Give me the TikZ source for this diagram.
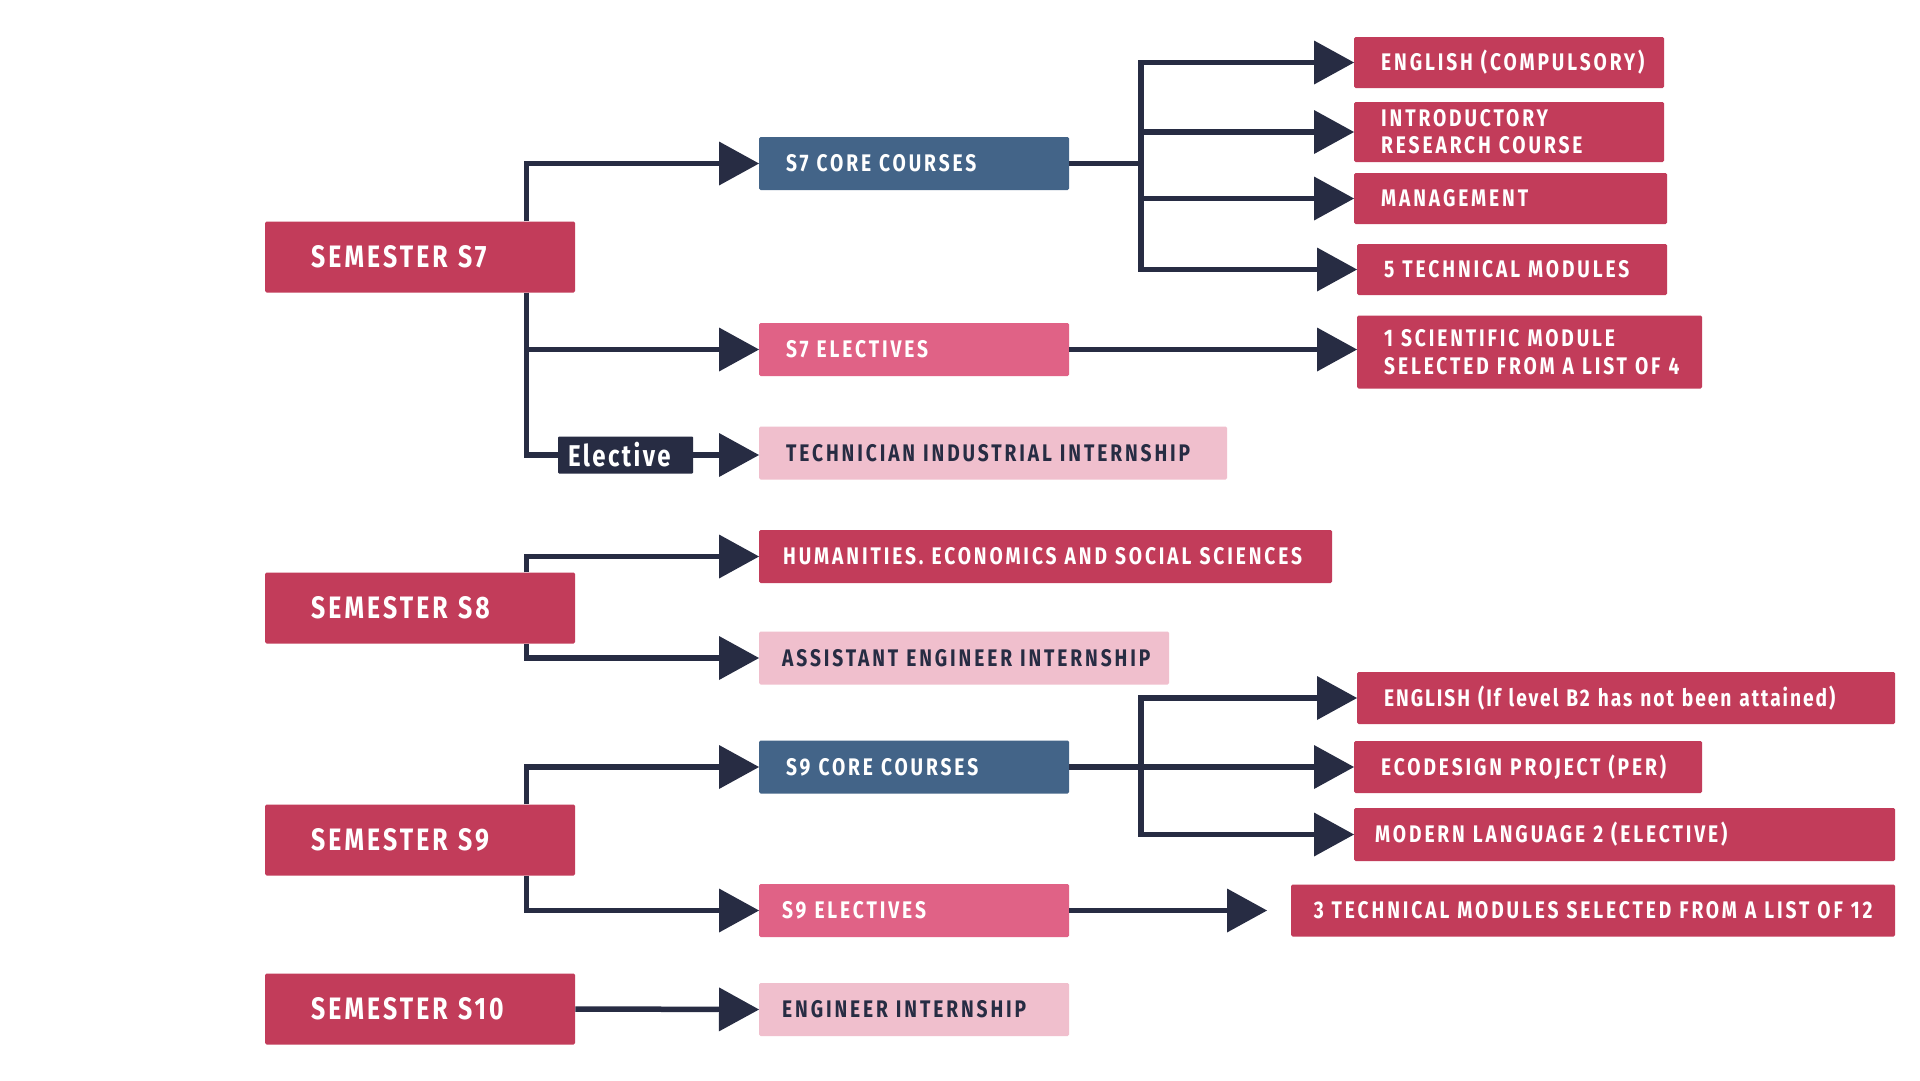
\documentclass[tikz,border=0pt]{standalone}
\usepackage{fontspec}
\setmainfont{Fira Sans}[FakeStretch=0.8, LetterSpace=12]
\newfontfamily\semfont{Fira Sans}[FakeStretch=0.8, LetterSpace=10]
\newfontfamily\tagfont{Fira Sans}[FakeStretch=0.8, LetterSpace=8]
\usetikzlibrary{arrows.meta, positioning}
\definecolor{crimson}{HTML}{C23C5A}
\definecolor{coreblue}{HTML}{436488}
\definecolor{pinkmid}{HTML}{E06286}
\definecolor{pinklight}{HTML}{F0BFCD}
\definecolor{navy}{HTML}{272C43}

\begin{document}
\begin{tikzpicture}[
    x=1pt, y=-1pt,
    every node/.style={anchor=west, align=left, inner ysep=0pt, inner xsep=27pt, rounded corners=1.5pt, font=\bfseries\fontsize{24}{28}\selectfont},
    sem/.style={fill=crimson, text=white, minimum height=71pt, inner xsep=46pt, text width=218pt, font=\semfont\bfseries\fontsize{31}{36}\selectfont},
    core/.style={fill=coreblue, text=white, minimum height=53pt},
    elect/.style={fill=pinkmid, text=white, minimum height=53pt},
    intern/.style={fill=pinklight, text=navy, minimum height=53pt},
    course/.style={fill=crimson, text=white, minimum height=52pt},
    link/.style={draw=navy, line width=5.5pt},
    arrow/.style={link, -{Triangle[length=40pt, width=44pt, line width=0pt]}}
]
\fill[white] (0,0) rectangle (1920,1080);

% Semesters
\node[sem] (sem7) at (265,257) {SEMESTER S7};
\node[sem] (sem8) at (265,608) {SEMESTER S8};
\node[sem] (sem9) at (265,840) {SEMESTER S9};
\node[sem] (sem10) at (265,1009) {SEMESTER S10};

% Second column
\node[core, text width=256pt] (core7) at (759,163.5) {S7 CORE COURSES};
\node[elect, text width=256pt] (elec7) at (759,349.5) {S7 ELECTIVES};
\node[intern, text width=414pt] (tech7) at (759,453) {\mbox{TECHNICIAN INDUSTRIAL INTERNSHIP}};
\node[course, minimum height=53pt, inner xsep=24pt, text width=525pt] (hum8) at (759,556.5) {\mbox{HUMANITIES. ECONOMICS AND SOCIAL SCIENCES}};
\node[intern, inner xsep=23pt, text width=364pt] (asst8) at (759,658) {\mbox{ASSISTANT ENGINEER INTERNSHIP}};
\node[core, text width=256pt] (core9) at (759,767) {S9 CORE COURSES};
\node[elect, inner xsep=23pt, text width=264pt] (elec9) at (759,910.5) {S9 ELECTIVES};
\node[intern, inner xsep=23pt, text width=264pt] (intern10) at (759,1009.5) {ENGINEER INTERNSHIP};
\node[fill=navy, text=white, inner xsep=10pt, minimum height=37pt, text width=115pt, rounded corners=1pt, font=\tagfont\bfseries\fontsize{30}{34}\selectfont] (tag) at (558,455) {Elective};

% Third column
\node[course, minimum height=51pt, text width=256pt] (eng7) at (1354,62.5) {\mbox{ENGLISH (COMPULSORY)}};
\node[course, minimum height=60pt, text width=256pt, font=\bfseries\fontsize{24}{27}\selectfont] (intro7) at (1354,132) {INTRODUCTORY\\RESEARCH COURSE};
\node[course, minimum height=51pt, text width=259pt] (mgmt7) at (1354,198.5) {MANAGEMENT};
\node[course, minimum height=51pt, text width=256pt] (mod7) at (1357,269.5) {\mbox{5 TECHNICAL MODULES}};
\node[course, minimum height=73pt, text width=291pt] (sci7) at (1357,352) {\mbox{1 SCIENTIFIC MODULE}\\\mbox{SELECTED FROM A LIST OF 4}};
\node[course, text width=484pt, font=\tagfont\bfseries\fontsize{24}{28}\selectfont] (eng9) at (1357,698) {\mbox{ENGLISH (If level B2 has not been attained)}};
\node[course, text width=294pt] (eco9) at (1354,767) {\mbox{ECODESIGN PROJECT (PER)}};
\node[course, minimum height=53pt, inner xsep=21pt, text width=499pt] (lang9) at (1354,834.5) {\mbox{MODERN LANGUAGE 2 (ELECTIVE)}};
\node[course, inner xsep=12pt, text width=580pt, align=center] (mod9) at (1291,910.5) {\mbox{3 TECHNICAL MODULES SELECTED FROM A LIST OF 12}};

% Trunks
\coordinate (t) at (526.5,0);
\coordinate (c) at (1141,0);

% Arrows
\draw[arrow] (sem7.north -| t) |- (core7.west);
\draw[arrow] (sem7.south -| t) |- (elec7.west);
\draw[link] (sem7.south -| t) |- (tag.west);
\draw[arrow] (tag.east) -- (tag.east -| tech7.west);

\draw[link] (core7.east) -- (core7.east -| c);
\draw[link, line cap=rect] (c |- eng7) -- (c |- mod7);
\draw[arrow] (c |- eng7) -- (eng7.west);
\draw[arrow] (c |- intro7) -- (intro7.west);
\draw[arrow] (c |- mgmt7) -- (mgmt7.west);
\draw[arrow] (c |- mod7) -- (mod7.west);
\draw[arrow] (elec7.east) -- (elec7.east -| sci7.west);

\draw[arrow] (sem8.north -| t) |- (hum8.west);
\draw[arrow] (sem8.south -| t) |- (asst8.west);

\draw[arrow] (sem9.north -| t) |- (core9.west);
\draw[arrow] (sem9.south -| t) |- (elec9.west);
\draw[link] (core9.east) -- (core9.east -| c);
\draw[link, line cap=rect] (c |- eng9) -- (c |- lang9);
\draw[arrow] (c |- eng9) -- (eng9.west);
\draw[arrow] (c |- eco9) -- (eco9.west);
\draw[arrow] (c |- lang9) -- (lang9.west);
\draw[arrow] (elec9.east) -- ([xshift=-24pt]mod9.west);

\draw[arrow] (sem10.east) -- (intern10.west);

\end{tikzpicture}
\end{document}
